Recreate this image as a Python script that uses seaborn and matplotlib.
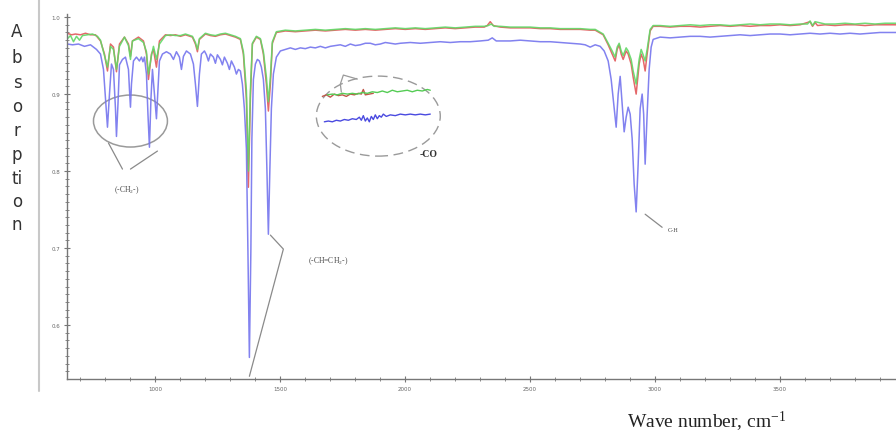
import numpy as np
import pandas as pd
import matplotlib
matplotlib.use("Agg")
import matplotlib.pyplot as plt
from matplotlib.patches import Ellipse
import seaborn as sns

# ---------------- spectra (wave number cm-1, absorption) ----------------
blue_wn = [650, 670, 694, 718, 742, 766, 782, 794, 802, 810, 818, 826, 834, 842, 846, 852, 858,
           870, 882, 894, 898, 902, 906, 914, 926, 938, 946, 952, 958, 966, 972, 978, 984, 990,
           998, 1006, 1012, 1018, 1030, 1046, 1062, 1074, 1086, 1098, 1106, 1114, 1126, 1142,
           1154, 1162, 1170, 1178, 1186, 1198, 1206, 1214, 1222, 1234, 1242, 1250, 1262, 1270,
           1278, 1290, 1298, 1306, 1318, 1326, 1334, 1342, 1350, 1358, 1366, 1372, 1378, 1384,
           1388, 1394, 1402, 1410, 1418, 1426, 1434, 1442, 1448, 1454, 1460, 1466, 1474, 1486,
           1502, 1522, 1542, 1562, 1582, 1602, 1622, 1642, 1662, 1682, 1702, 1722, 1742, 1762,
           1782, 1802, 1822, 1842, 1862, 1882, 1902, 1922, 1942, 1962, 1982, 2022, 2062, 2102,
           2142, 2182, 2222, 2262, 2302, 2334, 2350, 2366, 2422, 2462, 2502, 2542, 2582, 2622,
           2662, 2702, 2722, 2742, 2762, 2782, 2798, 2814, 2826, 2838, 2846, 2854, 2862, 2870,
           2878, 2886, 2894, 2902, 2910, 2918, 2926, 2934, 2942, 2950, 2956, 2962, 2970, 2978,
           2986, 2994, 3022, 3062, 3102, 3142, 3182, 3222, 3262, 3302, 3342, 3382, 3422, 3462,
           3502, 3542, 3582, 3622, 3662, 3702, 3742, 3782, 3822, 3862, 3902, 3966]
blue_abs = [0.965, 0.964, 0.965, 0.962, 0.964, 0.958, 0.952, 0.932, 0.894, 0.857, 0.900, 0.939,
            0.932, 0.881, 0.845, 0.887, 0.938, 0.945, 0.948, 0.932, 0.906, 0.883, 0.913, 0.943,
            0.948, 0.943, 0.948, 0.942, 0.948, 0.926, 0.874, 0.831, 0.894, 0.932, 0.900, 0.868,
            0.906, 0.943, 0.952, 0.955, 0.952, 0.945, 0.955, 0.948, 0.932, 0.949, 0.956, 0.952,
            0.939, 0.913, 0.884, 0.926, 0.952, 0.956, 0.951, 0.943, 0.952, 0.948, 0.940, 0.951,
            0.945, 0.938, 0.948, 0.940, 0.932, 0.943, 0.935, 0.926, 0.932, 0.930, 0.913, 0.881,
            0.829, 0.699, 0.558, 0.699, 0.842, 0.919, 0.939, 0.945, 0.943, 0.935, 0.919, 0.881,
            0.803, 0.718, 0.803, 0.881, 0.926, 0.948, 0.956, 0.958, 0.960, 0.958, 0.960, 0.959,
            0.961, 0.960, 0.962, 0.960, 0.962, 0.963, 0.964, 0.962, 0.965, 0.963, 0.964, 0.966,
            0.966, 0.964, 0.965, 0.967, 0.966, 0.965, 0.966, 0.967, 0.966, 0.967, 0.968, 0.967,
            0.968, 0.968, 0.969, 0.970, 0.973, 0.969, 0.969, 0.970, 0.969, 0.968, 0.968, 0.967,
            0.966, 0.965, 0.964, 0.961, 0.964, 0.962, 0.956, 0.943, 0.919, 0.881, 0.857, 0.900,
            0.923, 0.887, 0.851, 0.870, 0.883, 0.874, 0.842, 0.783, 0.747, 0.809, 0.881, 0.900,
            0.874, 0.809, 0.874, 0.932, 0.961, 0.971, 0.974, 0.973, 0.974, 0.975, 0.975, 0.974,
            0.975, 0.976, 0.977, 0.976, 0.977, 0.978, 0.978, 0.977, 0.978, 0.979, 0.978, 0.979,
            0.978, 0.979, 0.978, 0.979, 0.980, 0.980]

red_wn = [650, 666, 682, 702, 722, 742, 762, 782, 798, 810, 822, 834, 846, 858, 878, 894, 902,
          910, 934, 954, 966, 974, 986, 994, 1006, 1018, 1042, 1062, 1082, 1102, 1122, 1150,
          1162, 1170, 1178, 1202, 1222, 1242, 1262, 1282, 1302, 1322, 1342, 1354, 1366, 1374,
          1382, 1390, 1406, 1422, 1434, 1446, 1454, 1462, 1470, 1486, 1522, 1562, 1602, 1642,
          1682, 1722, 1762, 1802, 1842, 1882, 1922, 1962, 2002, 2042, 2082, 2122, 2162, 2202,
          2242, 2282, 2318, 2330, 2342, 2354, 2382, 2422, 2462, 2502, 2542, 2582, 2622, 2662,
          2702, 2742, 2762, 2794, 2814, 2830, 2842, 2850, 2858, 2866, 2874, 2886, 2894, 2906,
          2914, 2926, 2938, 2946, 2954, 2962, 2970, 2982, 2994, 3022, 3062, 3102, 3142, 3182,
          3222, 3262, 3302, 3342, 3382, 3422, 3462, 3502, 3542, 3582, 3622, 3632, 3642, 3652,
          3682, 3722, 3762, 3802, 3842, 3882, 3922, 3966]
red_abs = [0.979, 0.977, 0.978, 0.977, 0.979, 0.977, 0.977, 0.969, 0.952, 0.930, 0.965, 0.961,
           0.929, 0.965, 0.974, 0.965, 0.949, 0.969, 0.974, 0.969, 0.952, 0.919, 0.952, 0.958,
           0.935, 0.969, 0.977, 0.976, 0.977, 0.975, 0.977, 0.974, 0.965, 0.955, 0.971, 0.978,
           0.976, 0.975, 0.977, 0.978, 0.976, 0.974, 0.971, 0.952, 0.894, 0.779, 0.894, 0.965,
           0.974, 0.971, 0.952, 0.913, 0.878, 0.913, 0.966, 0.980, 0.982, 0.981, 0.982, 0.983,
           0.982, 0.983, 0.984, 0.983, 0.984, 0.983, 0.984, 0.985, 0.984, 0.985, 0.984, 0.985,
           0.986, 0.985, 0.986, 0.987, 0.987, 0.989, 0.994, 0.989, 0.987, 0.986, 0.986, 0.986,
           0.985, 0.985, 0.984, 0.984, 0.984, 0.983, 0.983, 0.977, 0.964, 0.952, 0.943, 0.958,
           0.964, 0.952, 0.945, 0.956, 0.952, 0.939, 0.922, 0.900, 0.939, 0.952, 0.945, 0.930,
           0.952, 0.982, 0.988, 0.988, 0.987, 0.988, 0.988, 0.987, 0.988, 0.989, 0.988, 0.989,
           0.988, 0.989, 0.989, 0.990, 0.989, 0.990, 0.994, 0.988, 0.993, 0.989, 0.990, 0.989,
           0.990, 0.990, 0.989, 0.990, 0.990, 0.990]

green_wn = [650, 662, 674, 686, 698, 710, 730, 750, 770, 782, 798, 810, 822, 834, 846, 858, 878,
            894, 902, 910, 934, 954, 966, 974, 986, 994, 1006, 1018, 1042, 1062, 1082, 1102,
            1122, 1150, 1162, 1170, 1178, 1202, 1222, 1242, 1262, 1282, 1302, 1322, 1342, 1354,
            1366, 1374, 1382, 1390, 1406, 1422, 1434, 1446, 1454, 1462, 1470, 1486, 1522, 1562,
            1602, 1642, 1682, 1722, 1762, 1802, 1842, 1882, 1922, 1962, 2002, 2042, 2082, 2122,
            2162, 2202, 2242, 2282, 2318, 2334, 2346, 2358, 2382, 2422, 2462, 2502, 2542, 2582,
            2622, 2662, 2702, 2742, 2762, 2794, 2814, 2830, 2842, 2850, 2858, 2866, 2874, 2886,
            2894, 2906, 2914, 2926, 2938, 2946, 2954, 2962, 2970, 2982, 2994, 3022, 3062, 3102,
            3142, 3182, 3222, 3262, 3302, 3342, 3382, 3422, 3462, 3502, 3542, 3582, 3612, 3622,
            3632, 3642, 3682, 3722, 3762, 3802, 3842, 3882, 3922, 3966]
green_abs = [0.972, 0.976, 0.968, 0.975, 0.970, 0.976, 0.977, 0.978, 0.975, 0.970, 0.950, 0.935,
             0.962, 0.958, 0.932, 0.962, 0.974, 0.963, 0.945, 0.969, 0.972, 0.967, 0.955, 0.926,
             0.950, 0.962, 0.945, 0.965, 0.976, 0.977, 0.976, 0.976, 0.978, 0.975, 0.967, 0.958,
             0.972, 0.979, 0.977, 0.976, 0.978, 0.979, 0.977, 0.975, 0.972, 0.955, 0.905, 0.800,
             0.905, 0.966, 0.975, 0.972, 0.955, 0.922, 0.890, 0.922, 0.968, 0.981, 0.983, 0.982,
             0.983, 0.984, 0.983, 0.984, 0.985, 0.984, 0.985, 0.984, 0.985, 0.986, 0.985, 0.986,
             0.985, 0.986, 0.987, 0.986, 0.987, 0.988, 0.988, 0.989, 0.991, 0.988, 0.988, 0.987,
             0.987, 0.987, 0.986, 0.986, 0.985, 0.985, 0.985, 0.984, 0.984, 0.978, 0.966, 0.956,
             0.948, 0.961, 0.966, 0.956, 0.950, 0.960, 0.956, 0.945, 0.930, 0.913, 0.945, 0.958,
             0.951, 0.943, 0.958, 0.984, 0.989, 0.989, 0.988, 0.989, 0.990, 0.989, 0.990, 0.990,
             0.989, 0.990, 0.991, 0.990, 0.991, 0.991, 0.990, 0.991, 0.991, 0.995, 0.989, 0.994,
             0.991, 0.991, 0.992, 0.991, 0.992, 0.991, 0.992, 0.992]

# magnified baseline view shown inside the dashed ellipse (-CO region)
inset_top_wn = [1670, 1686, 1702, 1718, 1734, 1750, 1766, 1782, 1798, 1814, 1826, 1834, 1842,
                1858, 1874]
inset_red = [0.897, 0.899, 0.896, 0.900, 0.898, 0.899, 0.897, 0.900, 0.899, 0.901, 0.900, 0.906,
             0.899, 0.900, 0.901]
inset_green_wn = [1690, 1710, 1730, 1750, 1770, 1790, 1810, 1830, 1850, 1870, 1890, 1910, 1930,
                  1950, 1970, 1990, 2010, 2030, 2050, 2070, 2090, 2102]
inset_green = [0.899, 0.900, 0.899, 0.901, 0.900, 0.901, 0.900, 0.902, 0.901, 0.903, 0.902, 0.904,
               0.902, 0.905, 0.903, 0.904, 0.905, 0.903, 0.905, 0.904, 0.906, 0.905]
inset_blue_wn = [1678, 1694, 1710, 1726, 1742, 1758, 1774, 1790, 1806, 1818, 1826, 1834, 1842,
                 1850, 1858, 1866, 1874, 1882, 1890, 1898, 1906, 1914, 1926, 1942, 1962, 1982,
                 2002, 2022, 2042, 2062, 2082, 2102]
inset_blue = [0.864, 0.865, 0.864, 0.866, 0.865, 0.867, 0.866, 0.868, 0.867, 0.870, 0.866, 0.872,
              0.865, 0.869, 0.864, 0.871, 0.867, 0.873, 0.868, 0.872, 0.870, 0.874, 0.871, 0.873,
              0.872, 0.874, 0.873, 0.874, 0.873, 0.874, 0.873, 0.874]

x_ticks = [1000, 1500, 2000, 2500, 3000, 3500]
y_ticks = [0.6, 0.7, 0.8, 0.9, 1.0]

COL_RED, COL_GREEN, COL_BLUE = "#e2585a", "#62d866", "#7474ee"

sns.set_theme(style="white")
plt.rcParams["font.family"] = ["DejaVu Sans"]
plt.rcParams["mathtext.fontset"] = "custom"
plt.rcParams["mathtext.rm"] = "Liberation Serif"
plt.rcParams["mathtext.it"] = "Liberation Serif:italic"

fig = plt.figure(figsize=(8.96, 4.35), dpi=100)
W, H = 896, 435
ax = fig.add_axes([67 / W, (H - 380) / H, (W - 67) / W, (380 - 15) / H])

df = pd.concat([
    pd.DataFrame({"wn": red_wn, "absorb": red_abs, "trace": "t1"}),
    pd.DataFrame({"wn": green_wn, "absorb": green_abs, "trace": "t2"}),
    pd.DataFrame({"wn": blue_wn, "absorb": blue_abs, "trace": "t3"}),
])
sns.lineplot(data=df, x="wn", y="absorb", hue="trace", hue_order=["t1", "t2", "t3"],
             palette=[COL_RED, COL_GREEN, COL_BLUE], estimator=None, sort=True,
             legend=False, linewidth=1.1, alpha=0.9, ax=ax)

# magnified inset traces
sns.lineplot(x=inset_top_wn, y=inset_red, color="#c0584a", linewidth=1.0, ax=ax)
sns.lineplot(x=inset_green_wn, y=inset_green, color="#55cc55", linewidth=1.0, ax=ax)
sns.lineplot(x=inset_blue_wn, y=inset_blue, color="#4a4ae0", linewidth=1.0, ax=ax)

ax.set_xlim(648, 3966)
ax.set_ylim(0.530, 1.004)
ax.set_xlabel("")
ax.set_ylabel("")

# axes frame: left & bottom only
for s in ("top", "right"):
    ax.spines[s].set_visible(False)
for s in ("left", "bottom"):
    ax.spines[s].set_color("#777777")
    ax.spines[s].set_linewidth(1.0)

ax.set_xticks(x_ticks)
ax.set_xticklabels([str(v) for v in x_ticks])
ax.set_xticks(np.arange(700, 3966, 100), minor=True)
ax.set_yticks(y_ticks)
ax.set_yticklabels([f"{v:.1f}" for v in y_ticks])
ax.set_yticks(np.arange(0.54, 1.004, 0.01), minor=True)
ax.tick_params(axis="both", which="major", labelsize=4, labelcolor="#666666", color="#777777",
               length=4, width=0.8, direction="inout", pad=3, bottom=True, left=True)
ax.tick_params(axis="both", which="minor", color="#888888", length=3, width=0.7,
               direction="inout", bottom=True, left=True)

# annotation: CH2 ellipse
ax.add_patch(Ellipse((902, 0.865), 296, 0.0675, fill=False, edgecolor="#9a9a9a", lw=1.1))
ax.plot([814, 870], [0.8364, 0.8026], color="#8a8a8a", lw=0.9)
ax.plot([1010, 902], [0.8260, 0.8026], color="#8a8a8a", lw=0.9)
ax.text(886, 0.777, r"(-CH$_2$-)", fontsize=5.5, family="Liberation Serif", color="#444444",
        ha="center", va="center")

# annotation: CH=CH2
ax.plot([1378, 1514, 1462], [0.5335, 0.6987, 0.7169], color="#8a8a8a", lw=0.9)
ax.text(1694, 0.684, r"(-CH=CH$_2$-)", fontsize=5.5, family="Liberation Serif",
        color="#444444", ha="center", va="center")

# annotation: C-H
ax.plot([2962, 3030], [0.744, 0.727], color="#8a8a8a", lw=0.9)
ax.text(3074, 0.724, "C-H", fontsize=4.5, family="Liberation Serif", color="#444444",
        ha="center", va="center")

# -CO magnified region
ax.add_patch(Ellipse((1894, 0.8714), 496, 0.1039, fill=False, edgecolor="#9a9a9a", lw=1.0,
                     linestyle=(0, (7, 4))))
ax.plot([1746, 1742, 1754, 1810], [0.9026, 0.9130, 0.9247, 0.9195], color="#9a9a9a", lw=0.9)
ax.text(2097, 0.8234, "-CO", fontsize=7, family="Liberation Serif", fontweight="bold",
        color="#333333", ha="center", va="center")

# vertical axis title, one letter per line
letters = ["A", "b", "s", "o", "r", "p", "ti", "o", "n"]
letter_y = [32, 58, 83, 107, 131, 155, 179, 202, 225]
for ch, py in zip(letters, letter_y):
    fig.text(17 / W, 1 - py / H, ch, fontsize=12, color="#333333", ha="center", va="center",
             family="DejaVu Sans")

fig.text(707 / W, 1 - 422 / H, r"Wave number, cm$^{-1}$", fontsize=14,
         family="Liberation Serif", color="#222222", ha="center", va="center")

# outer frame line on the left
fig.add_artist(plt.Line2D([39 / W, 39 / W], [1 - 392 / H, 1.0], transform=fig.transFigure,
                          color="#c8c8c8", lw=1.5))

fig.savefig("out.png", dpi=100)
